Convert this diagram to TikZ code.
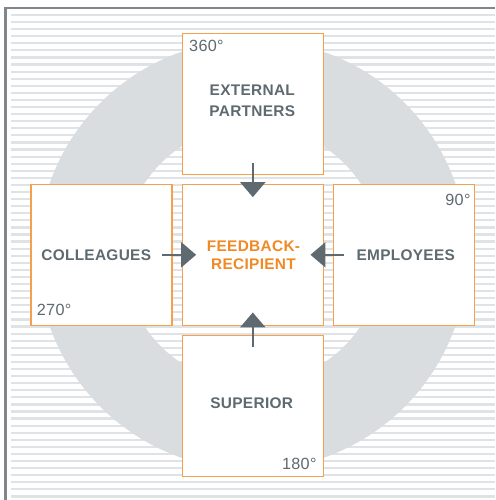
\documentclass[tikz,border=0pt]{standalone}
\usepackage{fontspec}
\setmainfont{Liberation Sans}
\newfontfamily\labfont{Liberation Sans}[LetterSpace=2]
\usetikzlibrary{arrows.meta,calc}
\definecolor{stripegray}{HTML}{DFE3E6}
\definecolor{ringgray}{HTML}{D9DDE0}
\definecolor{framegray}{HTML}{7F878C}
\definecolor{boxorange}{HTML}{F5A04C}
\definecolor{textorange}{HTML}{F08A24}
\definecolor{txtgray}{HTML}{5F6A70}
\definecolor{arrowgray}{HTML}{5F6A70}
\begin{document}
\begin{tikzpicture}[x=1pt,y=-1pt,
  box/.style={draw=boxorange, line width=1.3pt, fill=white, minimum size=141pt, inner sep=0pt},
  lab/.style={font=\labfont\bfseries\fontsize{15.4}{20.7}\selectfont, text=txtgray, align=center, inner sep=0pt},
  deg/.style={font=\labfont\fontsize{16.2}{18}\selectfont, text=txtgray, inner sep=0pt},
  arr/.style={draw=arrowgray, line width=2.3pt, -{Triangle[width=25pt,length=15pt]}}]
\useasboundingbox (0,0) rectangle (495,500);
\fill[white] (0,0) rectangle (495,500);
% stripes
\foreach \i in {0,...,68}{
  \fill[stripegray] (11,{15+7.08*\i-1.1}) rectangle (495,{15+7.08*\i+1.1});
}
% frame
\draw[framegray, line width=2.2pt] (5.4,500) -- (5.4,8.3) -- (495,8.3);
% ring
\coordinate (c) at (252.5,254.8);
\fill[ringgray, even odd rule] (c) circle[radius=215pt] (c) circle[radius=129.5pt];
% boxes
\node[box] (top) at (252.8,103.8) {};
\node[box] (mid) at (252.8,254.8) {};
\node[box] (bot) at (252.8,406.0) {};
\node[box] (lft) at (101.6,254.8) {};
\node[box] (rgt) at (404.0,254.8) {};
% arrows
\draw[arr] ($(top.south)+(0,-11.5)$) -- ($(mid.north)+(0,13.5)$);
\draw[arr] ($(bot.north)+(0,12.5)$) -- ($(mid.south)+(0,-13.5)$);
\draw[arr] ($(lft.east)+(-10.5,0)$) -- ($(mid.west)+(14.5,0)$);
\draw[arr] ($(rgt.west)+(11.5,0)$) -- ($(mid.east)+(-13.5,0)$);
% labels
\node[lab] (tl) at (252.3,100.6) {EXTERNAL\\PARTNERS};
\node[lab, text=textorange, font=\labfont\bfseries\fontsize{15.4}{18}\selectfont] (ml) at (253.5,255.2) {FEEDBACK-\\RECIPIENT};
\node[lab] (ll) at (96.2,255.5) {COLLEAGUES};
\node[lab] (rl) at (405.7,255.0) {EMPLOYEES};
\node[lab] (bl) at (251.7,403.4) {SUPERIOR};
\node[deg, anchor=base west] (d360) at (189,52) {360°};
\node[deg, anchor=base east] (d90) at (470.7,205.7) {90°};
\node[deg, anchor=base west] (d270) at (36.7,315) {270°};
\node[deg, anchor=base east] (d180) at (316.7,469.3) {180°};
\end{tikzpicture}
\end{document}
